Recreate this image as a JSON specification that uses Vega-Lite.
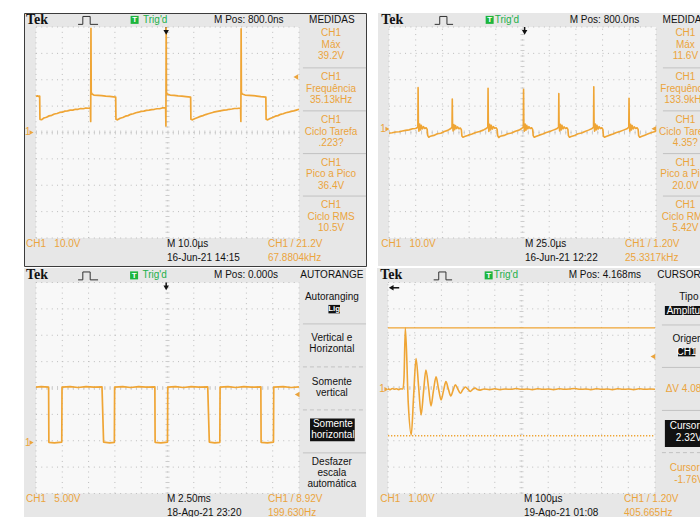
{
"$schema": "https://vega.github.io/schema/vega-lite/v6.json",
"background": "#ffffff",
"padding": {"left": 23, "top": 12, "right": 0, "bottom": 0},
"config": {"view": {"stroke": null}},
"spacing": 1,
"vconcat": [
{"hconcat": [
{
"width": 342, "height": 253,
"view": {"fill": "#e7e7e7", "stroke": "#3c3c3c", "strokeWidth": 1},
"encoding": {
"x": {"field": "x", "type": "quantitative", "scale": {"domain": [-0.456, 12.548], "nice": false, "zero": false}, "axis": null},
"y": {"field": "y", "type": "quantitative", "scale": {"domain": [-5.062, 4.531], "nice": false, "zero": false}, "axis": null}
},
"layer": [
{"data": {"name": "grat"}, "mark": {"type": "rect", "fill": "#f8f8f8"}, "encoding": {"x2": {"field": "x2"}, "y2": {"field": "y2"}}},
{"data": {"name": "grid"}, "mark": {"type": "rule", "color": "#bdbdbd", "strokeWidth": 1, "strokeDash": [1, 4.26]}, "encoding": {"x2": {"field": "x2"}, "y2": {"field": "y2"}}},
{"data": {"name": "gridc"}, "mark": {"type": "rule", "color": "#cdcdcd", "strokeWidth": 4, "strokeDash": [1, 4.26]}, "encoding": {"x2": {"field": "x2"}, "y2": {"field": "y2"}}},
{"data": {"name": "tl_sep"}, "mark": {"type": "rule", "color": "#c2c2c2", "strokeWidth": 1}, "encoding": {"x2": {"field": "x2"}, "y2": {"field": "y2"}}},
{"data": {"name": "icon_l"}, "mark": {"type": "line", "color": "#333333", "strokeWidth": 1}, "encoding": {}},
{"data": {"name": "stem_l"}, "mark": {"type": "rule", "color": "#111111", "strokeWidth": 1.5}, "encoding": {"x2": {"field": "x2"}, "y2": {"field": "y2"}}},
{"data": {"name": "tl_tr"}, "mark": {"type": "line", "color": "#efa535", "strokeWidth": 1.7, "strokeJoin": "round"}, "encoding": {}},
{"data": {"name": "tl_mk"}, "transform": [{"filter": "datum.g==='grn'"}], "mark": {"type": "point", "shape": "square", "filled": true, "color": "#1db53c", "size": 64, "opacity": 1}, "encoding": {}},
{"data": {"name": "tl_mk"}, "transform": [{"filter": "datum.g==='tri_d'"}], "mark": {"type": "point", "shape": "triangle-down", "filled": true, "color": "#111111", "size": 30, "opacity": 1}, "encoding": {}},
{"data": {"name": "tl_mk"}, "transform": [{"filter": "datum.g==='arr_r'"}], "mark": {"type": "point", "shape": "triangle-right", "filled": true, "color": "#eba43c", "size": 22, "opacity": 1}, "encoding": {}},
{"data": {"name": "tl_mk"}, "transform": [{"filter": "datum.g==='arr_l'"}], "mark": {"type": "point", "shape": "triangle-left", "filled": true, "color": "#eba43c", "size": 30, "opacity": 1}, "encoding": {}},
{"data": {"name": "tl_txt"}, "transform": [{"filter": "datum.g==='tek'"}], "mark": {"type": "text", "font": "Liberation Serif", "fontWeight": "bold", "fontSize": 14, "align": "left", "baseline": "middle", "color": "#111111", "clip": true}, "encoding": {"text": {"field": "t"}}},
{"data": {"name": "tl_txt"}, "transform": [{"filter": "datum.g==='blk'"}], "mark": {"type": "text", "font": "Liberation Sans", "fontSize": 10, "align": "left", "baseline": "middle", "color": "#111111", "clip": true}, "encoding": {"text": {"field": "t"}}},
{"data": {"name": "tl_txt"}, "transform": [{"filter": "datum.g==='trig'"}], "mark": {"type": "text", "font": "Liberation Sans", "fontSize": 10, "align": "left", "baseline": "middle", "color": "#22b04a", "clip": true}, "encoding": {"text": {"field": "t"}}},
{"data": {"name": "tl_txt"}, "transform": [{"filter": "datum.g==='T'"}], "mark": {"type": "text", "font": "Liberation Sans", "fontWeight": "bold", "fontSize": 8, "align": "center", "baseline": "middle", "color": "#ffffff", "clip": true}, "encoding": {"text": {"field": "t"}}},
{"data": {"name": "tl_txt"}, "transform": [{"filter": "datum.g==='org'"}], "mark": {"type": "text", "font": "Liberation Sans", "fontSize": 10, "align": "left", "baseline": "middle", "color": "#eba43c", "clip": true}, "encoding": {"text": {"field": "t"}}},
{"data": {"name": "tl_txt"}, "transform": [{"filter": "datum.g==='mb'"}], "mark": {"type": "text", "font": "Liberation Sans", "fontSize": 10, "align": "center", "baseline": "middle", "lineBreak": "\n", "lineHeight": 11.5, "color": "#111111", "clip": true}, "encoding": {"text": {"field": "t"}}},
{"data": {"name": "tl_txt"}, "transform": [{"filter": "datum.g==='mo'"}], "mark": {"type": "text", "font": "Liberation Sans", "fontSize": 10, "align": "center", "baseline": "middle", "lineBreak": "\n", "lineHeight": 11.5, "color": "#eba43c", "clip": true}, "encoding": {"text": {"field": "t"}}}
]
},
{
"width": 325, "height": 253,
"view": {"fill": "#e7e7e7", "stroke": null},
"encoding": {
"x": {"field": "x", "type": "quantitative", "scale": {"domain": [-0.412, 11.76], "nice": false, "zero": false}, "axis": null},
"y": {"field": "y", "type": "quantitative", "scale": {"domain": [-5.062, 4.531], "nice": false, "zero": false}, "axis": null}
},
"layer": [
{"data": {"name": "grat"}, "mark": {"type": "rect", "fill": "#f8f8f8"}, "encoding": {"x2": {"field": "x2"}, "y2": {"field": "y2"}}},
{"data": {"name": "grid"}, "mark": {"type": "rule", "color": "#bdbdbd", "strokeWidth": 1, "strokeDash": [1, 4.34]}, "encoding": {"x2": {"field": "x2"}, "y2": {"field": "y2"}}},
{"data": {"name": "gridc"}, "mark": {"type": "rule", "color": "#cdcdcd", "strokeWidth": 4, "strokeDash": [1, 4.34]}, "encoding": {"x2": {"field": "x2"}, "y2": {"field": "y2"}}},
{"data": {"name": "tr_sep"}, "mark": {"type": "rule", "color": "#c2c2c2", "strokeWidth": 1}, "encoding": {"x2": {"field": "x2"}, "y2": {"field": "y2"}}},
{"data": {"name": "icon_r"}, "mark": {"type": "line", "color": "#333333", "strokeWidth": 1}, "encoding": {}},
{"data": {"name": "stem_tr"}, "mark": {"type": "rule", "color": "#111111", "strokeWidth": 1.5}, "encoding": {"x2": {"field": "x2"}, "y2": {"field": "y2"}}},
{"data": {"name": "tr_tr"}, "mark": {"type": "line", "color": "#efa535", "strokeWidth": 1.6, "strokeJoin": "round"}, "encoding": {}},
{"data": {"name": "tr_mk"}, "transform": [{"filter": "datum.g==='grn'"}], "mark": {"type": "point", "shape": "square", "filled": true, "color": "#1db53c", "size": 64, "opacity": 1}, "encoding": {}},
{"data": {"name": "tr_mk"}, "transform": [{"filter": "datum.g==='tri_d'"}], "mark": {"type": "point", "shape": "triangle-down", "filled": true, "color": "#111111", "size": 30, "opacity": 1}, "encoding": {}},
{"data": {"name": "tr_mk"}, "transform": [{"filter": "datum.g==='arr_r'"}], "mark": {"type": "point", "shape": "triangle-right", "filled": true, "color": "#eba43c", "size": 22, "opacity": 1}, "encoding": {}},
{"data": {"name": "tr_mk"}, "transform": [{"filter": "datum.g==='arr_l'"}], "mark": {"type": "point", "shape": "triangle-left", "filled": true, "color": "#eba43c", "size": 30, "opacity": 1}, "encoding": {}},
{"data": {"name": "tr_txt"}, "transform": [{"filter": "datum.g==='tek'"}], "mark": {"type": "text", "font": "Liberation Serif", "fontWeight": "bold", "fontSize": 14, "align": "left", "baseline": "middle", "color": "#111111", "clip": true}, "encoding": {"text": {"field": "t"}}},
{"data": {"name": "tr_txt"}, "transform": [{"filter": "datum.g==='blk'"}], "mark": {"type": "text", "font": "Liberation Sans", "fontSize": 10, "align": "left", "baseline": "middle", "color": "#111111", "clip": true}, "encoding": {"text": {"field": "t"}}},
{"data": {"name": "tr_txt"}, "transform": [{"filter": "datum.g==='trig'"}], "mark": {"type": "text", "font": "Liberation Sans", "fontSize": 10, "align": "left", "baseline": "middle", "color": "#22b04a", "clip": true}, "encoding": {"text": {"field": "t"}}},
{"data": {"name": "tr_txt"}, "transform": [{"filter": "datum.g==='T'"}], "mark": {"type": "text", "font": "Liberation Sans", "fontWeight": "bold", "fontSize": 8, "align": "center", "baseline": "middle", "color": "#ffffff", "clip": true}, "encoding": {"text": {"field": "t"}}},
{"data": {"name": "tr_txt"}, "transform": [{"filter": "datum.g==='org'"}], "mark": {"type": "text", "font": "Liberation Sans", "fontSize": 10, "align": "left", "baseline": "middle", "color": "#eba43c", "clip": true}, "encoding": {"text": {"field": "t"}}},
{"data": {"name": "tr_txt"}, "transform": [{"filter": "datum.g==='mb'"}], "mark": {"type": "text", "font": "Liberation Sans", "fontSize": 10, "align": "center", "baseline": "middle", "lineBreak": "\n", "lineHeight": 11.5, "color": "#111111", "clip": true}, "encoding": {"text": {"field": "t"}}},
{"data": {"name": "tr_txt"}, "transform": [{"filter": "datum.g==='mo'"}], "mark": {"type": "text", "font": "Liberation Sans", "fontSize": 10, "align": "center", "baseline": "middle", "lineBreak": "\n", "lineHeight": 11.5, "color": "#eba43c", "clip": true}, "encoding": {"text": {"field": "t"}}}
]
}
], "spacing": 10},
{"hconcat": [
{
"width": 342, "height": 251,
"view": {"fill": "#e7e7e7", "stroke": null},
"encoding": {
"x": {"field": "x", "type": "quantitative", "scale": {"domain": [-0.456, 12.548], "nice": false, "zero": false}, "axis": null},
"y": {"field": "y", "type": "quantitative", "scale": {"domain": [-4.967, 4.55], "nice": false, "zero": false}, "axis": null}
},
"layer": [
{"data": {"name": "grat"}, "mark": {"type": "rect", "fill": "#f8f8f8"}, "encoding": {"x2": {"field": "x2"}, "y2": {"field": "y2"}}},
{"data": {"name": "grid"}, "mark": {"type": "rule", "color": "#bdbdbd", "strokeWidth": 1, "strokeDash": [1, 4.26]}, "encoding": {"x2": {"field": "x2"}, "y2": {"field": "y2"}}},
{"data": {"name": "gridc"}, "mark": {"type": "rule", "color": "#cdcdcd", "strokeWidth": 4, "strokeDash": [1, 4.26]}, "encoding": {"x2": {"field": "x2"}, "y2": {"field": "y2"}}},
{"data": {"name": "bl_sep"}, "transform": [{"filter": "datum.g==='solid'"}], "mark": {"type": "rule", "color": "#c2c2c2", "strokeWidth": 1}, "encoding": {"x2": {"field": "x2"}, "y2": {"field": "y2"}}},
{"data": {"name": "bl_sep"}, "transform": [{"filter": "datum.g==='dash'"}], "mark": {"type": "rule", "color": "#c2c2c2", "strokeWidth": 1, "strokeDash": [4, 3]}, "encoding": {"x2": {"field": "x2"}, "y2": {"field": "y2"}}},
{"data": {"name": "bl_box"}, "mark": {"type": "rect", "fill": "#111111"}, "encoding": {"x2": {"field": "x2"}, "y2": {"field": "y2"}}},
{"data": {"name": "icon_l"}, "mark": {"type": "line", "color": "#333333", "strokeWidth": 1}, "encoding": {}},
{"data": {"name": "stem_l"}, "mark": {"type": "rule", "color": "#111111", "strokeWidth": 1.5}, "encoding": {"x2": {"field": "x2"}, "y2": {"field": "y2"}}},
{"data": {"name": "bl_tr"}, "mark": {"type": "line", "color": "#efa535", "strokeWidth": 1.7, "strokeJoin": "round"}, "encoding": {}},
{"data": {"name": "bl_mk"}, "transform": [{"filter": "datum.g==='grn'"}], "mark": {"type": "point", "shape": "square", "filled": true, "color": "#1db53c", "size": 64, "opacity": 1}, "encoding": {}},
{"data": {"name": "bl_mk"}, "transform": [{"filter": "datum.g==='tri_d'"}], "mark": {"type": "point", "shape": "triangle-down", "filled": true, "color": "#111111", "size": 30, "opacity": 1}, "encoding": {}},
{"data": {"name": "bl_mk"}, "transform": [{"filter": "datum.g==='arr_r'"}], "mark": {"type": "point", "shape": "triangle-right", "filled": true, "color": "#eba43c", "size": 22, "opacity": 1}, "encoding": {}},
{"data": {"name": "bl_mk"}, "transform": [{"filter": "datum.g==='arr_l'"}], "mark": {"type": "point", "shape": "triangle-left", "filled": true, "color": "#eba43c", "size": 30, "opacity": 1}, "encoding": {}},
{"data": {"name": "bl_txt"}, "transform": [{"filter": "datum.g==='tek'"}], "mark": {"type": "text", "font": "Liberation Serif", "fontWeight": "bold", "fontSize": 14, "align": "left", "baseline": "middle", "color": "#111111", "clip": true}, "encoding": {"text": {"field": "t"}}},
{"data": {"name": "bl_txt"}, "transform": [{"filter": "datum.g==='blk'"}], "mark": {"type": "text", "font": "Liberation Sans", "fontSize": 10, "align": "left", "baseline": "middle", "color": "#111111", "clip": true}, "encoding": {"text": {"field": "t"}}},
{"data": {"name": "bl_txt"}, "transform": [{"filter": "datum.g==='trig'"}], "mark": {"type": "text", "font": "Liberation Sans", "fontSize": 10, "align": "left", "baseline": "middle", "color": "#22b04a", "clip": true}, "encoding": {"text": {"field": "t"}}},
{"data": {"name": "bl_txt"}, "transform": [{"filter": "datum.g==='T'"}], "mark": {"type": "text", "font": "Liberation Sans", "fontWeight": "bold", "fontSize": 8, "align": "center", "baseline": "middle", "color": "#ffffff", "clip": true}, "encoding": {"text": {"field": "t"}}},
{"data": {"name": "bl_txt"}, "transform": [{"filter": "datum.g==='org'"}], "mark": {"type": "text", "font": "Liberation Sans", "fontSize": 10, "align": "left", "baseline": "middle", "color": "#eba43c", "clip": true}, "encoding": {"text": {"field": "t"}}},
{"data": {"name": "bl_txt"}, "transform": [{"filter": "datum.g==='mb'"}], "mark": {"type": "text", "font": "Liberation Sans", "fontSize": 10, "align": "center", "baseline": "middle", "lineBreak": "\n", "lineHeight": 11, "color": "#111111", "clip": true}, "encoding": {"text": {"field": "t"}}},
{"data": {"name": "bl_txt"}, "transform": [{"filter": "datum.g==='mw'"}], "mark": {"type": "text", "font": "Liberation Sans", "fontSize": 10, "align": "center", "baseline": "middle", "lineBreak": "\n", "lineHeight": 11, "color": "#ffffff", "clip": true}, "encoding": {"text": {"field": "t"}}},
{"data": {"name": "bl_txt"}, "transform": [{"filter": "datum.g==='mws'"}], "mark": {"type": "text", "font": "Liberation Sans", "fontWeight": "bold", "fontSize": 8, "align": "center", "baseline": "middle", "color": "#ffffff", "clip": true}, "encoding": {"text": {"field": "t"}}}
]
},
{
"width": 325, "height": 251,
"view": {"fill": "#e7e7e7", "stroke": null},
"encoding": {
"x": {"field": "x", "type": "quantitative", "scale": {"domain": [-0.412, 11.76], "nice": false, "zero": false}, "axis": null},
"y": {"field": "y", "type": "quantitative", "scale": {"domain": [-4.967, 4.55], "nice": false, "zero": false}, "axis": null}
},
"layer": [
{"data": {"name": "grat"}, "mark": {"type": "rect", "fill": "#f8f8f8"}, "encoding": {"x2": {"field": "x2"}, "y2": {"field": "y2"}}},
{"data": {"name": "grid"}, "mark": {"type": "rule", "color": "#bdbdbd", "strokeWidth": 1, "strokeDash": [1, 4.34]}, "encoding": {"x2": {"field": "x2"}, "y2": {"field": "y2"}}},
{"data": {"name": "gridc"}, "mark": {"type": "rule", "color": "#cdcdcd", "strokeWidth": 4, "strokeDash": [1, 4.34]}, "encoding": {"x2": {"field": "x2"}, "y2": {"field": "y2"}}},
{"data": {"name": "br_sep"}, "transform": [{"filter": "datum.g==='solid'"}], "mark": {"type": "rule", "color": "#c2c2c2", "strokeWidth": 1}, "encoding": {"x2": {"field": "x2"}, "y2": {"field": "y2"}}},
{"data": {"name": "br_sep"}, "transform": [{"filter": "datum.g==='dash'"}], "mark": {"type": "rule", "color": "#c2c2c2", "strokeWidth": 1, "strokeDash": [4, 3]}, "encoding": {"x2": {"field": "x2"}, "y2": {"field": "y2"}}},
{"data": {"name": "br_box"}, "mark": {"type": "rect", "fill": "#111111"}, "encoding": {"x2": {"field": "x2"}, "y2": {"field": "y2"}}},
{"data": {"name": "br_cur"}, "transform": [{"filter": "datum.g==='solid'"}], "mark": {"type": "rule", "color": "#efa535", "strokeWidth": 1.3}, "encoding": {"x2": {"field": "x2"}, "y2": {"field": "y2"}}},
{"data": {"name": "br_cur"}, "transform": [{"filter": "datum.g==='dot'"}], "mark": {"type": "rule", "color": "#efa535", "strokeWidth": 1.3, "strokeDash": [1.3, 1.7]}, "encoding": {"x2": {"field": "x2"}, "y2": {"field": "y2"}}},
{"data": {"name": "icon_r"}, "mark": {"type": "line", "color": "#333333", "strokeWidth": 1}, "encoding": {}},
{"data": {"name": "stem_br"}, "mark": {"type": "rule", "color": "#111111", "strokeWidth": 1.5}, "encoding": {"x2": {"field": "x2"}, "y2": {"field": "y2"}}},
{"data": {"name": "br_tr"}, "mark": {"type": "line", "color": "#efa535", "strokeWidth": 1.6, "strokeJoin": "round", "interpolate": "monotone"}, "encoding": {}},
{"data": {"name": "br_mk"}, "transform": [{"filter": "datum.g==='grn'"}], "mark": {"type": "point", "shape": "square", "filled": true, "color": "#1db53c", "size": 64, "opacity": 1}, "encoding": {}},
{"data": {"name": "br_mk"}, "transform": [{"filter": "datum.g==='tri_l'"}], "mark": {"type": "point", "shape": "triangle-left", "filled": true, "color": "#111111", "size": 30, "opacity": 1}, "encoding": {}},
{"data": {"name": "br_mk"}, "transform": [{"filter": "datum.g==='arr_r'"}], "mark": {"type": "point", "shape": "triangle-right", "filled": true, "color": "#eba43c", "size": 22, "opacity": 1}, "encoding": {}},
{"data": {"name": "br_mk"}, "transform": [{"filter": "datum.g==='arr_l'"}], "mark": {"type": "point", "shape": "triangle-left", "filled": true, "color": "#eba43c", "size": 30, "opacity": 1}, "encoding": {}},
{"data": {"name": "br_txt"}, "transform": [{"filter": "datum.g==='tek'"}], "mark": {"type": "text", "font": "Liberation Serif", "fontWeight": "bold", "fontSize": 14, "align": "left", "baseline": "middle", "color": "#111111", "clip": true}, "encoding": {"text": {"field": "t"}}},
{"data": {"name": "br_txt"}, "transform": [{"filter": "datum.g==='blk'"}], "mark": {"type": "text", "font": "Liberation Sans", "fontSize": 10, "align": "left", "baseline": "middle", "color": "#111111", "clip": true}, "encoding": {"text": {"field": "t"}}},
{"data": {"name": "br_txt"}, "transform": [{"filter": "datum.g==='trig'"}], "mark": {"type": "text", "font": "Liberation Sans", "fontSize": 10, "align": "left", "baseline": "middle", "color": "#22b04a", "clip": true}, "encoding": {"text": {"field": "t"}}},
{"data": {"name": "br_txt"}, "transform": [{"filter": "datum.g==='T'"}], "mark": {"type": "text", "font": "Liberation Sans", "fontWeight": "bold", "fontSize": 8, "align": "center", "baseline": "middle", "color": "#ffffff", "clip": true}, "encoding": {"text": {"field": "t"}}},
{"data": {"name": "br_txt"}, "transform": [{"filter": "datum.g==='org'"}], "mark": {"type": "text", "font": "Liberation Sans", "fontSize": 10, "align": "left", "baseline": "middle", "color": "#eba43c", "clip": true}, "encoding": {"text": {"field": "t"}}},
{"data": {"name": "br_txt"}, "transform": [{"filter": "datum.g==='mb'"}], "mark": {"type": "text", "font": "Liberation Sans", "fontSize": 10, "align": "center", "baseline": "middle", "lineBreak": "\n", "lineHeight": 11.5, "color": "#111111", "clip": true}, "encoding": {"text": {"field": "t"}}},
{"data": {"name": "br_txt"}, "transform": [{"filter": "datum.g==='mo'"}], "mark": {"type": "text", "font": "Liberation Sans", "fontSize": 10, "align": "center", "baseline": "middle", "lineBreak": "\n", "lineHeight": 11.5, "color": "#eba43c", "clip": true}, "encoding": {"text": {"field": "t"}}},
{"data": {"name": "br_txt"}, "transform": [{"filter": "datum.g==='mw'"}], "mark": {"type": "text", "font": "Liberation Sans", "fontSize": 10, "align": "center", "baseline": "middle", "lineBreak": "\n", "lineHeight": 11.5, "color": "#ffffff", "clip": true}, "encoding": {"text": {"field": "t"}}}
]
}
], "spacing": 10}
],
"datasets": {
"grat": [{"x": 0, "x2": 10, "y": -4, "y2": 4}],
"grid": [
{"x": 0, "x2": 10, "y": -4, "y2": -4}, {"x": 0, "x2": 10, "y": -3, "y2": -3}, {"x": 0, "x2": 10, "y": -2, "y2": -2}, {"x": 0, "x2": 10, "y": -1, "y2": -1}, {"x": 0, "x2": 10, "y": 0, "y2": 0}, {"x": 0, "x2": 10, "y": 1, "y2": 1}, {"x": 0, "x2": 10, "y": 2, "y2": 2}, {"x": 0, "x2": 10, "y": 3, "y2": 3}, {"x": 0, "x2": 10, "y": 4, "y2": 4},
{"x": 0, "x2": 0, "y": -4, "y2": 4}, {"x": 1, "x2": 1, "y": -4, "y2": 4}, {"x": 2, "x2": 2, "y": -4, "y2": 4}, {"x": 3, "x2": 3, "y": -4, "y2": 4}, {"x": 4, "x2": 4, "y": -4, "y2": 4}, {"x": 5, "x2": 5, "y": -4, "y2": 4}, {"x": 6, "x2": 6, "y": -4, "y2": 4}, {"x": 7, "x2": 7, "y": -4, "y2": 4}, {"x": 8, "x2": 8, "y": -4, "y2": 4}, {"x": 9, "x2": 9, "y": -4, "y2": 4}, {"x": 10, "x2": 10, "y": -4, "y2": 4}
],
"gridc": [{"x": 0, "x2": 10, "y": 0, "y2": 0}, {"x": 5, "x2": 5, "y": -4, "y2": 4}],
"icon_l": [{"x": 1.6, "y": 4.1}, {"x": 1.78, "y": 4.1}, {"x": 1.781, "y": 4.4}, {"x": 2.06, "y": 4.4}, {"x": 2.061, "y": 4.1}, {"x": 2.36, "y": 4.1}],
"icon_r": [{"x": 1.71, "y": 4.1}, {"x": 1.9, "y": 4.1}, {"x": 1.901, "y": 4.4}, {"x": 2.17, "y": 4.4}, {"x": 2.171, "y": 4.1}, {"x": 2.4, "y": 4.1}],
"stem_l": [{"x": 4.95, "x2": 4.95, "y": 4.0, "y2": 3.85}],
"stem_tr": [{"x": 5.08, "x2": 5.08, "y": 4.0, "y2": 3.85}],
"stem_br": [{"x": 0.14, "x2": 0.42, "y": 3.8, "y2": 3.8}],
"tl_sep": [
{"x": 10.15, "x2": 12.55, "y": 2.45, "y2": 2.45}, {"x": 10.15, "x2": 12.55, "y": 0.82, "y2": 0.82}, {"x": 10.15, "x2": 12.55, "y": -0.8, "y2": -0.8}, {"x": 10.15, "x2": 12.55, "y": -2.41, "y2": -2.41}
],
"tr_sep": [
{"x": 10.26, "x2": 11.76, "y": 2.45, "y2": 2.45}, {"x": 10.26, "x2": 11.76, "y": 0.82, "y2": 0.82}, {"x": 10.26, "x2": 11.76, "y": -0.8, "y2": -0.8}, {"x": 10.26, "x2": 11.76, "y": -2.41, "y2": -2.41}
],
"bl_sep": [
{"g": "solid", "x": 10.15, "x2": 12.55, "y": 2.43, "y2": 2.43}, {"g": "dash", "x": 10.15, "x2": 12.55, "y": 0.8, "y2": 0.8}, {"g": "dash", "x": 10.15, "x2": 12.55, "y": -0.83, "y2": -0.83}, {"g": "solid", "x": 10.15, "x2": 12.55, "y": -2.46, "y2": -2.46}
],
"br_sep": [
{"g": "solid", "x": 10.26, "x2": 11.76, "y": 2.39, "y2": 2.39}, {"g": "solid", "x": 10.26, "x2": 11.76, "y": 0.78, "y2": 0.78}, {"g": "solid", "x": 10.26, "x2": 11.76, "y": -0.85, "y2": -0.85}, {"g": "dash", "x": 10.26, "x2": 11.76, "y": -2.45, "y2": -2.45}
],
"bl_box": [{"x": 11.12, "x2": 11.56, "y": 2.83, "y2": 3.15}, {"x": 10.42, "x2": 12.12, "y": -2.02, "y2": -1.16}],
"br_box": [{"x": 10.37, "x2": 11.95, "y": 2.77, "y2": 3.11}, {"x": 10.86, "x2": 11.51, "y": 1.2, "y2": 1.52}, {"x": 10.37, "x2": 11.95, "y": -2.24, "y2": -1.21}],
"br_cur": [{"g": "solid", "x": 0, "x2": 10, "y": 2.28, "y2": 2.28}, {"g": "dot", "x": 0, "x2": 10, "y": -1.81, "y2": -1.81}],
"tl_mk": [{"g": "grn", "x": 3.75, "y": 4.27}, {"g": "tri_d", "x": 4.95, "y": 3.8}, {"g": "arr_r", "x": -0.17, "y": 0.0}, {"g": "arr_l", "x": 9.88, "y": 2.1}],
"tr_mk": [{"g": "grn", "x": 3.77, "y": 4.27}, {"g": "tri_d", "x": 5.08, "y": 3.8}, {"g": "arr_r", "x": -0.06, "y": 0.13}, {"g": "arr_l", "x": 9.92, "y": 0.14}],
"bl_mk": [{"g": "grn", "x": 3.73, "y": 4.27}, {"g": "tri_d", "x": 4.95, "y": 3.8}, {"g": "arr_r", "x": -0.17, "y": -2.07}, {"g": "arr_l", "x": 9.93, "y": -0.25}],
"br_mk": [{"g": "grn", "x": 3.77, "y": 4.27}, {"g": "tri_l", "x": 0.12, "y": 3.8}, {"g": "arr_r", "x": -0.06, "y": -0.05}, {"g": "arr_l", "x": 9.92, "y": 1.19}],
"tl_txt": [
{"g": "tek", "x": -0.38, "y": 4.27, "t": "Tek"},
{"g": "blk", "x": 6.77, "y": 4.27, "t": "M Pos: 800.0ns"},
{"g": "trig", "x": 4.07, "y": 4.27, "t": "Trig'd"},
{"g": "T", "x": 3.75, "y": 4.25, "t": "T"},
{"g": "mb", "x": 11.25, "y": 4.27, "t": "MEDIDAS"},
{"g": "mo", "x": 11.22, "y": 3.756, "t": "CH1\nMáx\n39.2V"},
{"g": "mo", "x": 11.22, "y": 2.096, "t": "CH1\nFrequência\n35.13kHz"},
{"g": "mo", "x": 11.22, "y": 0.456, "t": "CH1\nCiclo Tarefa\n.223?"},
{"g": "mo", "x": 11.22, "y": -1.144, "t": "CH1\nPico a Pico\n36.4V"},
{"g": "mo", "x": 11.22, "y": -2.764, "t": "CH1\nCiclo RMS\n10.5V"},
{"g": "org", "x": -0.38, "y": -4.22, "t": "CH1\u00a0\u00a0 10.0V"},
{"g": "blk", "x": 4.98, "y": -4.22, "t": "M 10.0µs"},
{"g": "org", "x": 8.82, "y": -4.22, "t": "CH1 / 21.2V"},
{"g": "blk", "x": 4.98, "y": -4.75, "t": "16-Jun-21 14:15"},
{"g": "org", "x": 8.82, "y": -4.75, "t": "67.8804kHz"},
{"g": "org", "x": -0.42, "y": 0.0, "t": "1"}
],
"tr_txt": [
{"g": "tek", "x": -0.29, "y": 4.27, "t": "Tek"},
{"g": "blk", "x": 6.77, "y": 4.27, "t": "M Pos: 800.0ns"},
{"g": "trig", "x": 3.96, "y": 4.27, "t": "Trig'd"},
{"g": "T", "x": 3.77, "y": 4.25, "t": "T"},
{"g": "mb", "x": 11.1, "y": 4.27, "t": "MEDIDAS"},
{"g": "mo", "x": 11.1, "y": 3.756, "t": "CH1\nMáx\n11.6V"},
{"g": "mo", "x": 11.1, "y": 2.096, "t": "CH1\nFrequência\n133.9kHz"},
{"g": "mo", "x": 11.1, "y": 0.456, "t": "CH1\nCiclo Tarefa\n4.35?"},
{"g": "mo", "x": 11.1, "y": -1.144, "t": "CH1\nPico a Pico\n20.0V"},
{"g": "mo", "x": 11.1, "y": -2.764, "t": "CH1\nCiclo RMS\n5.42V"},
{"g": "org", "x": -0.29, "y": -4.22, "t": "CH1\u00a0\u00a0 10.0V"},
{"g": "blk", "x": 5.09, "y": -4.22, "t": "M 25.0µs"},
{"g": "org", "x": 8.84, "y": -4.22, "t": "CH1 / 1.20V"},
{"g": "blk", "x": 5.09, "y": -4.75, "t": "16-Jun-21 12:22"},
{"g": "org", "x": 8.84, "y": -4.75, "t": "25.3317kHz"},
{"g": "org", "x": -0.33, "y": 0.13, "t": "1"}
],
"bl_txt": [
{"g": "tek", "x": -0.38, "y": 4.27, "t": "Tek"},
{"g": "blk", "x": 6.77, "y": 4.27, "t": "M Pos: 0.000s"},
{"g": "trig", "x": 4.05, "y": 4.27, "t": "Trig'd"},
{"g": "T", "x": 3.73, "y": 4.25, "t": "T"},
{"g": "mb", "x": 11.25, "y": 4.27, "t": "AUTORANGE"},
{"g": "mb", "x": 11.25, "y": 3.45, "t": "Autoranging"},
{"g": "mws", "x": 11.34, "y": 2.98, "t": "Lig"},
{"g": "mb", "x": 11.25, "y": 1.879, "t": "Vertical e\nHorizontal"},
{"g": "mb", "x": 11.25, "y": 0.209, "t": "Somente\nvertical"},
{"g": "mw", "x": 11.29, "y": -1.381, "t": "Somente\nhorizontal"},
{"g": "mb", "x": 11.25, "y": -2.803, "t": "Desfazer\nescala\nautomática"},
{"g": "org", "x": -0.38, "y": -4.22, "t": "CH1\u00a0\u00a0 5.00V"},
{"g": "blk", "x": 4.98, "y": -4.22, "t": "M 2.50ms"},
{"g": "org", "x": 8.82, "y": -4.22, "t": "CH1 / 8.92V"},
{"g": "blk", "x": 4.98, "y": -4.75, "t": "18-Ago-21 23:20"},
{"g": "org", "x": 8.82, "y": -4.75, "t": "199.630Hz"},
{"g": "org", "x": -0.42, "y": -2.07, "t": "1"}
],
"br_txt": [
{"g": "tek", "x": -0.29, "y": 4.27, "t": "Tek"},
{"g": "blk", "x": 6.77, "y": 4.27, "t": "M Pos: 4.168ms"},
{"g": "trig", "x": 3.96, "y": 4.27, "t": "Trig'd"},
{"g": "T", "x": 3.77, "y": 4.25, "t": "T"},
{"g": "mb", "x": 11.15, "y": 4.27, "t": "CURSORES"},
{"g": "mb", "x": 11.27, "y": 3.46, "t": "Tipo"},
{"g": "mw", "x": 11.27, "y": 2.93, "t": "Amplitude"},
{"g": "mb", "x": 11.27, "y": 1.84, "t": "Origem"},
{"g": "mw", "x": 11.18, "y": 1.36, "t": "CH1"},
{"g": "org", "x": 10.4, "y": -0.04, "t": "ΔV 4.08V"},
{"g": "mw", "x": 11.27, "y": -1.442, "t": "Cursor 1\n2.32V"},
{"g": "mo", "x": 11.27, "y": -3.042, "t": "Cursor 2\n-1.76V"},
{"g": "org", "x": -0.29, "y": -4.22, "t": "CH1\u00a0\u00a0 1.00V"},
{"g": "blk", "x": 5.09, "y": -4.22, "t": "M 100µs"},
{"g": "org", "x": 8.84, "y": -4.22, "t": "CH1 / 1.20V"},
{"g": "blk", "x": 5.09, "y": -4.75, "t": "19-Ago-21 01:08"},
{"g": "org", "x": 8.84, "y": -4.75, "t": "405.665Hz"},
{"g": "org", "x": -0.33, "y": -0.05, "t": "1"}
],
"tl_tr": [
{"x":0.00,"y":1.36},{"x":0.05,"y":1.39},{"x":0.10,"y":1.37},{"x":0.14,"y":1.38},{"x":0.15,"y":0.50},{"x":0.22,"y":0.49},{"x":0.30,"y":0.55},{"x":0.40,"y":0.58},{"x":0.50,"y":0.63},{"x":0.60,"y":0.65},{"x":0.70,"y":0.70},{"x":0.80,"y":0.72},{"x":0.90,"y":0.76},{"x":1.00,"y":0.77},{"x":1.10,"y":0.81},{"x":1.20,"y":0.82},{"x":1.30,"y":0.85},{"x":1.40,"y":0.85},{"x":1.50,"y":0.88},{"x":1.60,"y":0.88},{"x":1.70,"y":0.91},{"x":1.80,"y":0.90},{"x":1.90,"y":0.93},{"x":2.00,"y":0.92},{"x":2.07,"y":0.94},
{"x":2.08,"y":0.42},{"x":2.09,"y":3.95},{"x":2.10,"y":1.52},{"x":2.13,"y":1.46},{"x":2.20,"y":1.42},{"x":2.35,"y":1.41},{"x":2.50,"y":1.40},{"x":2.65,"y":1.38},{"x":2.80,"y":1.37},{"x":2.95,"y":1.35},{"x":3.03,"y":1.34},
{"x":3.04,"y":0.50},{"x":3.10,"y":0.48},{"x":3.20,"y":0.54},{"x":3.30,"y":0.57},{"x":3.40,"y":0.62},{"x":3.50,"y":0.64},{"x":3.60,"y":0.69},{"x":3.70,"y":0.71},{"x":3.80,"y":0.75},{"x":3.90,"y":0.77},{"x":4.00,"y":0.80},{"x":4.10,"y":0.81},{"x":4.20,"y":0.84},{"x":4.30,"y":0.85},{"x":4.40,"y":0.87},{"x":4.50,"y":0.88},{"x":4.60,"y":0.90},{"x":4.70,"y":0.90},{"x":4.80,"y":0.93},{"x":4.93,"y":0.93},
{"x":4.94,"y":0.25},{"x":4.95,"y":3.97},{"x":4.96,"y":1.52},{"x":4.99,"y":1.46},{"x":5.10,"y":1.42},{"x":5.25,"y":1.41},{"x":5.40,"y":1.39},{"x":5.55,"y":1.38},{"x":5.70,"y":1.36},{"x":5.88,"y":1.34},
{"x":5.89,"y":0.50},{"x":5.95,"y":0.48},{"x":6.05,"y":0.53},{"x":6.15,"y":0.57},{"x":6.25,"y":0.61},{"x":6.35,"y":0.64},{"x":6.45,"y":0.68},{"x":6.55,"y":0.71},{"x":6.65,"y":0.74},{"x":6.75,"y":0.77},{"x":6.85,"y":0.79},{"x":6.95,"y":0.81},{"x":7.05,"y":0.83},{"x":7.15,"y":0.85},{"x":7.25,"y":0.86},{"x":7.35,"y":0.88},{"x":7.45,"y":0.89},{"x":7.55,"y":0.91},{"x":7.65,"y":0.91},{"x":7.78,"y":0.93},
{"x":7.79,"y":0.42},{"x":7.80,"y":3.93},{"x":7.81,"y":1.52},{"x":7.84,"y":1.46},{"x":7.95,"y":1.42},{"x":8.10,"y":1.41},{"x":8.25,"y":1.40},{"x":8.40,"y":1.38},{"x":8.55,"y":1.36},{"x":8.74,"y":1.34},
{"x":8.75,"y":0.50},{"x":8.81,"y":0.48},{"x":8.90,"y":0.53},{"x":9.00,"y":0.57},{"x":9.10,"y":0.62},{"x":9.20,"y":0.64},{"x":9.30,"y":0.69},{"x":9.40,"y":0.71},{"x":9.50,"y":0.75},{"x":9.60,"y":0.77},{"x":9.70,"y":0.80},{"x":9.80,"y":0.82},{"x":9.90,"y":0.85},{"x":10.00,"y":0.88}
],
"tr_tr": [
{"x":0.00,"y":-0.03},{"x":0.12,"y":-0.01},{"x":0.25,"y":0.02},{"x":0.38,"y":0.03},{"x":0.50,"y":0.06},{"x":0.62,"y":0.08},{"x":0.75,"y":0.10},{"x":0.88,"y":0.14},{"x":1.00,"y":0.15},{"x":1.08,"y":0.20},
{"x":1.09,"y":1.70},{"x":1.10,"y":0.35},{"x":1.12,"y":0.05},{"x":1.15,"y":0.32},{"x":1.18,"y":0.10},{"x":1.21,"y":0.27},{"x":1.25,"y":0.14},{"x":1.29,"y":0.22},{"x":1.34,"y":0.15},{"x":1.39,"y":0.18},{"x":1.43,"y":0.12},{"x":1.45,"y":-0.12},{"x":1.49,"y":-0.18},{"x":1.55,"y":-0.14},
{"x":1.68,"y":-0.11},{"x":1.81,"y":-0.05},{"x":1.94,"y":-0.03},{"x":2.07,"y":0.04},{"x":2.20,"y":0.08},{"x":2.30,"y":0.14},{"x":2.36,"y":0.20},
{"x":2.37,"y":1.27},{"x":2.38,"y":0.33},{"x":2.40,"y":0.06},{"x":2.43,"y":0.30},{"x":2.46,"y":0.11},{"x":2.49,"y":0.26},{"x":2.53,"y":0.15},{"x":2.57,"y":0.21},{"x":2.62,"y":0.14},{"x":2.67,"y":0.17},{"x":2.71,"y":0.11},{"x":2.73,"y":-0.13},{"x":2.77,"y":-0.18},{"x":2.83,"y":-0.15},
{"x":2.97,"y":-0.10},{"x":3.11,"y":-0.06},{"x":3.25,"y":0.00},{"x":3.39,"y":0.04},{"x":3.53,"y":0.09},{"x":3.64,"y":0.15},{"x":3.70,"y":0.20},
{"x":3.71,"y":1.68},{"x":3.72,"y":0.36},{"x":3.74,"y":0.04},{"x":3.77,"y":0.31},{"x":3.80,"y":0.10},{"x":3.83,"y":0.27},{"x":3.87,"y":0.13},{"x":3.91,"y":0.22},{"x":3.96,"y":0.16},{"x":4.01,"y":0.18},{"x":4.05,"y":0.12},{"x":4.07,"y":-0.12},{"x":4.11,"y":-0.19},{"x":4.17,"y":-0.14},
{"x":4.31,"y":-0.11},{"x":4.45,"y":-0.05},{"x":4.59,"y":-0.02},{"x":4.73,"y":0.05},{"x":4.87,"y":0.09},{"x":4.97,"y":0.15},{"x":5.03,"y":0.21},
{"x":5.04,"y":1.64},{"x":5.05,"y":0.35},{"x":5.07,"y":0.05},{"x":5.10,"y":0.32},{"x":5.13,"y":0.09},{"x":5.16,"y":0.27},{"x":5.20,"y":0.14},{"x":5.24,"y":0.22},{"x":5.29,"y":0.15},{"x":5.34,"y":0.18},{"x":5.38,"y":0.12},{"x":5.40,"y":-0.12},{"x":5.44,"y":-0.18},{"x":5.50,"y":-0.15},
{"x":5.63,"y":-0.10},{"x":5.76,"y":-0.06},{"x":5.89,"y":0.00},{"x":6.02,"y":0.04},{"x":6.15,"y":0.09},{"x":6.28,"y":0.14},{"x":6.35,"y":0.20},
{"x":6.36,"y":1.48},{"x":6.37,"y":0.34},{"x":6.39,"y":0.06},{"x":6.42,"y":0.31},{"x":6.45,"y":0.10},{"x":6.48,"y":0.27},{"x":6.52,"y":0.14},{"x":6.56,"y":0.21},{"x":6.61,"y":0.15},{"x":6.66,"y":0.18},{"x":6.70,"y":0.12},{"x":6.72,"y":-0.12},{"x":6.76,"y":-0.18},{"x":6.82,"y":-0.15},
{"x":6.95,"y":-0.11},{"x":7.08,"y":-0.05},{"x":7.21,"y":-0.02},{"x":7.34,"y":0.04},{"x":7.47,"y":0.09},{"x":7.59,"y":0.14},{"x":7.66,"y":0.20},
{"x":7.67,"y":1.73},{"x":7.68,"y":0.36},{"x":7.70,"y":0.05},{"x":7.73,"y":0.32},{"x":7.76,"y":0.10},{"x":7.79,"y":0.27},{"x":7.83,"y":0.13},{"x":7.87,"y":0.22},{"x":7.92,"y":0.15},{"x":7.97,"y":0.18},{"x":8.01,"y":0.12},{"x":8.03,"y":-0.13},{"x":8.07,"y":-0.18},{"x":8.13,"y":-0.15},
{"x":8.26,"y":-0.10},{"x":8.39,"y":-0.06},{"x":8.52,"y":0.00},{"x":8.65,"y":0.04},{"x":8.78,"y":0.09},{"x":8.91,"y":0.14},{"x":8.98,"y":0.20},
{"x":8.99,"y":1.30},{"x":9.00,"y":0.34},{"x":9.02,"y":0.05},{"x":9.05,"y":0.31},{"x":9.08,"y":0.10},{"x":9.11,"y":0.26},{"x":9.15,"y":0.14},{"x":9.19,"y":0.21},{"x":9.24,"y":0.15},{"x":9.29,"y":0.18},{"x":9.33,"y":0.12},{"x":9.35,"y":-0.12},{"x":9.39,"y":-0.18},{"x":9.45,"y":-0.15},
{"x":9.58,"y":-0.10},{"x":9.71,"y":-0.05},{"x":9.84,"y":0.00},{"x":10.00,"y":0.05}
],
"bl_tr": [
{"x":0,"y":0.03},{"x":0.2,"y":0.05},{"x":0.48,"y":0.03},{"x":0.49,"y":-2.06},{"x":0.7,"y":-2.08},{"x":0.98,"y":-2.05},{"x":0.99,"y":0.03},{"x":1.3,"y":0.05},{"x":1.6,"y":0.02},{"x":1.9,"y":0.05},{"x":2.2,"y":0.03},{"x":2.51,"y":0.04},{"x":2.57,"y":-2.05},{"x":2.8,"y":-2.08},{"x":2.98,"y":-2.06},{"x":2.99,"y":0.03},{"x":3.3,"y":0.05},{"x":3.6,"y":0.02},{"x":3.9,"y":0.05},{"x":4.2,"y":0.03},{"x":4.52,"y":0.04},{"x":4.53,"y":-2.06},{"x":4.75,"y":-2.08},{"x":5.0,"y":-2.05},{"x":5.01,"y":0.03},{"x":5.3,"y":0.05},{"x":5.6,"y":0.02},{"x":5.9,"y":0.05},{"x":6.2,"y":0.03},{"x":6.53,"y":0.04},{"x":6.59,"y":-2.05},{"x":6.8,"y":-2.08},{"x":6.99,"y":-2.06},{"x":7.0,"y":0.03},{"x":7.3,"y":0.05},{"x":7.6,"y":0.02},{"x":7.9,"y":0.05},{"x":8.2,"y":0.03},{"x":8.55,"y":0.04},{"x":8.56,"y":-2.06},{"x":8.8,"y":-2.08},{"x":9.03,"y":-2.05},{"x":9.04,"y":0.03},{"x":9.4,"y":0.05},{"x":9.7,"y":0.02},{"x":10.0,"y":0.04}
],
"br_tr": [
{"x":0.00,"y":-0.03},{"x":0.08,"y":-0.06},{"x":0.16,"y":-0.02},{"x":0.24,"y":-0.05},{"x":0.32,"y":-0.03},{"x":0.40,"y":-0.06},{"x":0.48,"y":-0.03},{"x":0.56,"y":-0.04},
{"x":0.60,"y":0.4},{"x":0.65,"y":2.28},{"x":0.76,"y":-0.6},{"x":0.87,"y":-1.78},{"x":0.96,"y":-0.3},{"x":1.05,"y":1.12},{"x":1.15,"y":0.0},{"x":1.24,"y":-1.02},{"x":1.33,"y":-0.15},{"x":1.42,"y":0.68},{"x":1.52,"y":0.0},{"x":1.61,"y":-0.68},{"x":1.70,"y":-0.12},{"x":1.80,"y":0.42},{"x":1.89,"y":-0.02},{"x":1.99,"y":-0.45},{"x":2.08,"y":-0.1},{"x":2.17,"y":0.24},{"x":2.26,"y":-0.04},{"x":2.35,"y":-0.30},{"x":2.44,"y":-0.08},{"x":2.52,"y":0.12},{"x":2.62,"y":-0.05},{"x":2.71,"y":-0.20},{"x":2.80,"y":-0.07},{"x":2.90,"y":0.04},{"x":2.99,"y":-0.04},{"x":3.08,"y":-0.13},{"x":3.17,"y":-0.05},{"x":3.26,"y":0.00},{"x":3.35,"y":-0.06},{"x":3.45,"y":-0.08},
{"x":3.6,"y":-0.04},{"x":3.8,"y":-0.06},{"x":4.0,"y":-0.03},{"x":4.2,"y":-0.06},{"x":4.4,"y":-0.04},{"x":4.6,"y":-0.05},{"x":4.8,"y":-0.02},{"x":5.0,"y":-0.05},{"x":5.2,"y":-0.04},{"x":5.4,"y":-0.06},{"x":5.6,"y":-0.03},{"x":5.8,"y":-0.05},{"x":6.0,"y":-0.04},{"x":6.2,"y":-0.06},{"x":6.4,"y":-0.03},{"x":6.6,"y":-0.05},{"x":6.8,"y":-0.04},{"x":7.0,"y":-0.02},{"x":7.2,"y":-0.05},{"x":7.4,"y":-0.04},{"x":7.6,"y":-0.06},{"x":7.8,"y":-0.03},{"x":8.0,"y":-0.05},{"x":8.2,"y":-0.04},{"x":8.4,"y":-0.06},{"x":8.6,"y":-0.03},{"x":8.8,"y":-0.05},{"x":9.0,"y":-0.04},{"x":9.2,"y":-0.06},{"x":9.4,"y":-0.03},{"x":9.6,"y":-0.05},{"x":9.8,"y":-0.04},{"x":10.0,"y":-0.05}
]
}
}
